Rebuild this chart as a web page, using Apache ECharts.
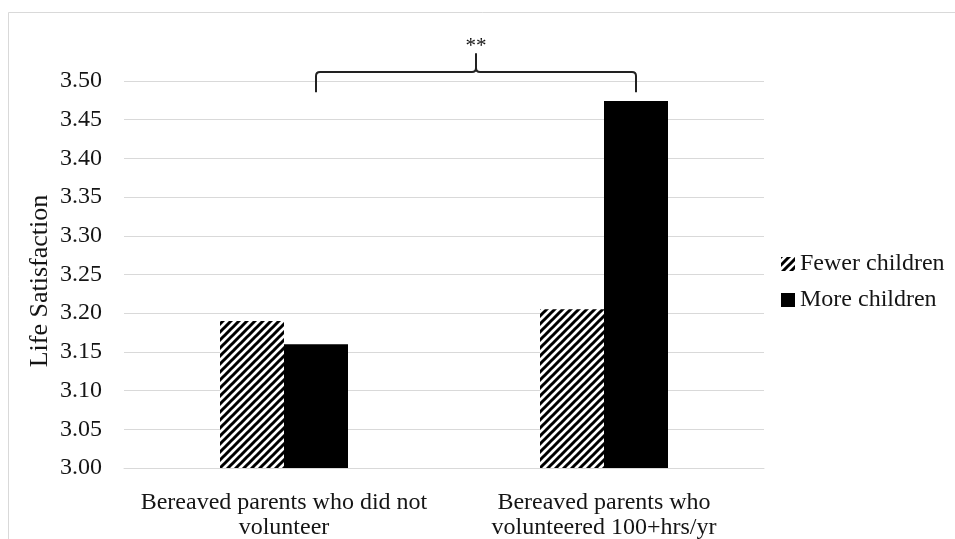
<!DOCTYPE html>
<html>
<head>
<meta charset="utf-8">
<script src="https://cdn.jsdelivr.net/npm/echarts@6/dist/echarts.min.js"></script>
<style>html,body{margin:0;padding:0;background:#fff;}#c{width:955px;height:539px;}</style>
</head>
<body>
<div id="c"></div>
<script>
var categories = ["Bereaved parents who did not\nvolunteer", "Bereaved parents who\nvolunteered 100+hrs/yr"];
var seriesNames = ["Fewer children", "More children"];
var fewerValues = [3.19, 3.205];
var moreValues = [3.16, 3.474];
var yMin = 3.00, yMax = 3.50, yStep = 0.05;
var yAxisTitle = "Life Satisfaction";
var sigLabel = "**";

var FONT = "'Liberation Serif', 'Times New Roman', serif";
var FS = 24;
var TXT = '#151515';

function makeHatch() {
  var c = document.createElement('canvas');
  c.width = 8; c.height = 8;
  var g = c.getContext('2d');
  g.fillStyle = '#fff'; g.fillRect(0, 0, 8, 8);
  g.strokeStyle = '#000'; g.lineWidth = 3;
  g.beginPath();
  g.moveTo(-2, 10); g.lineTo(10, -2);
  g.moveTo(-6, 6); g.lineTo(6, -6);
  g.moveTo(2, 14); g.lineTo(14, 2);
  g.stroke();
  return c;
}
var hatch = { image: makeHatch(), repeat: 'repeat' };

var chart = echarts.init(document.getElementById('c'), null, { renderer: 'canvas' });
var option = {
  animation: false,
  backgroundColor: '#fff',
  grid: { left: 124, right: 191, top: 81, bottom: 71, containLabel: false, outerBoundsMode: 'none' },
  legend: {
    orient: 'vertical', left: 776, top: 247, itemWidth: 14, itemHeight: 14, itemGap: 12, itemTextGap: 3,
    icon: 'rect',
    textStyle: { fontFamily: FONT, fontSize: FS, lineHeight: 24, color: TXT },
    data: seriesNames
  },
  xAxis: {
    type: 'category', data: categories,
    axisLine: { show: true, lineStyle: { color: '#d9d9d9', width: 1 } },
    axisTick: { show: false },
    axisLabel: { fontFamily: FONT, fontSize: FS, color: TXT, margin: 22, lineHeight: 25, interval: 0 }
  },
  yAxis: {
    type: 'value', min: yMin, max: yMax, interval: yStep,
    axisLine: { show: false }, axisTick: { show: false },
    axisLabel: { fontFamily: FONT, fontSize: FS, color: TXT, margin: 22, formatter: function (v) { return v.toFixed(2); } },
    splitLine: { lineStyle: { color: '#d9d9d9', width: 1 } }
  },
  series: [
    { name: seriesNames[0], type: 'bar', data: fewerValues, barWidth: '20%', barGap: '0%', itemStyle: { color: hatch } },
    { name: seriesNames[1], type: 'bar', data: moreValues, barWidth: '20%', barGap: '0%', itemStyle: { color: '#000' } }
  ]
};
chart.setOption(option);

// Bracket annotation between the "More children" bars
var c0 = chart.convertToPixel({ xAxisIndex: 0 }, 0);
var c1 = chart.convertToPixel({ xAxisIndex: 0 }, 1);
var band = c1 - c0;
var x1 = c0 + band * 0.1, x2 = c1 + band * 0.1;
var yEnd = chart.convertToPixel({ yAxisIndex: 0 }, 3.4855);
var yTop = chart.convertToPixel({ yAxisIndex: 0 }, 3.5115);
var yTip = chart.convertToPixel({ yAxisIndex: 0 }, 3.536);
var xm = (x1 + x2) / 2, r = 4;
var ls = { fill: 'none', stroke: '#222', lineWidth: 2 };

chart.setOption({
  graphic: [
    { type: 'rect', shape: { x: 8.5, y: 12.5, width: 960, height: 540 }, style: { fill: 'none', stroke: '#d9d9d9', lineWidth: 1 }, silent: true },
    { type: 'text', x: 40, y: 281, rotation: Math.PI / 2, style: { text: yAxisTitle, font: '26px ' + FONT, fill: TXT, textAlign: 'center', textVerticalAlign: 'middle' } },
    { type: 'polyline', shape: { points: [[x1, yEnd], [x1, yTop + r]] }, style: ls },
    { type: 'bezierCurve', shape: { x1: x1, y1: yTop + r, cpx1: x1, cpy1: yTop, x2: x1 + r, y2: yTop }, style: ls },
    { type: 'polyline', shape: { points: [[x1 + r, yTop], [xm - r, yTop]] }, style: ls },
    { type: 'bezierCurve', shape: { x1: xm - r, y1: yTop, cpx1: xm, cpy1: yTop, x2: xm, y2: yTop - r }, style: ls },
    { type: 'polyline', shape: { points: [[xm, yTop - r], [xm, yTip]] }, style: ls },
    { type: 'bezierCurve', shape: { x1: xm, y1: yTop - r, cpx1: xm, cpy1: yTop, x2: xm + r, y2: yTop }, style: ls },
    { type: 'polyline', shape: { points: [[xm + r, yTop], [x2 - r, yTop]] }, style: ls },
    { type: 'bezierCurve', shape: { x1: x2 - r, y1: yTop, cpx1: x2, cpy1: yTop, x2: x2, y2: yTop + r }, style: ls },
    { type: 'polyline', shape: { points: [[x2, yTop + r], [x2, yEnd]] }, style: ls },
    { type: 'text', x: xm, y: yTip + 4, style: { text: sigLabel, font: '21px ' + FONT, fill: TXT, textAlign: 'center', textVerticalAlign: 'bottom' } }
  ]
});
</script>
</body>
</html>
